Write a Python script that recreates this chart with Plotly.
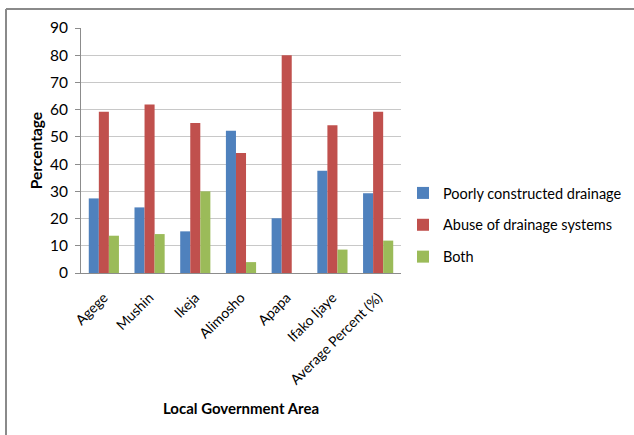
import plotly.graph_objects as go

categories = ["Agege", "Mushin", "Ikeja", "Alimosho", "Apapa", "Ifako Ijaye", "Average Percent (%)"]
poorly = [27.4, 24.1, 15.3, 52.3, 20.1, 37.6, 29.3]
abuse = [59.2, 61.9, 55.1, 44.1, 80.0, 54.3, 59.2]
both = [13.7, 14.3, 30.0, 4.0, 0, 8.6, 11.9]
series_names = ["Poorly constructed drainage", "Abuse of drainage systems", "Both"]
colors = ["#4F81BD", "#C0504D", "#9BBB59"]

FONT = "Lato"
fig = go.Figure()
for i, (name, vals) in enumerate(zip(series_names, [poorly, abuse, both])):
    fig.add_trace(go.Bar(
        x=categories, y=vals, name=name,
        marker=dict(color=colors[i], line=dict(width=0)),
        legendgroup=str(i),
    ))

W, H = 634, 435
L, R, T, B = 81, 233, 28, 162
pw = W - L - R
ph = H - T - B

border = dict(color="#8a8a8a", width=2)
fig.update_layout(
    width=W, height=H,
    margin=dict(l=L, r=R, t=T, b=B, autoexpand=False),
    paper_bgcolor="white", plot_bgcolor="white",
    barmode="group", bargap=0.34, bargroupgap=0,
    font=dict(family=FONT, size=14, color="#000000"),
    legend=dict(x=(403 - L) / pw, xanchor="left", y=(H - B - 225) / ph, yanchor="middle",
                font=dict(family=FONT, size=14.5), tracegroupgap=10,
                itemwidth=30, bgcolor="rgba(0,0,0,0)"),
    xaxis=dict(
        title=dict(text="<b>Local Government Area</b>", font=dict(family=FONT, size=15), standoff=16),
        tickangle=-45, showline=True, linecolor="#8c8c8c", linewidth=1,
        tickfont=dict(family=FONT, size=14), showgrid=False, ticklabelstandoff=10,
        automargin=False,
    ),
    yaxis=dict(
        title=dict(text="<b>Percentage</b>", font=dict(family=FONT, size=15.5), standoff=3),
        range=[0, 90], dtick=10, showline=True, linecolor="#8c8c8c", linewidth=1,
        gridcolor="#c8c8c8", gridwidth=1, ticks="outside", ticklen=5, tickcolor="#8c8c8c",
        tickfont=dict(family=FONT, size=15.5), zeroline=False, automargin=False,
        ticklabelstandoff=4,
    ),
    shapes=[
        dict(type="line", xref="paper", yref="paper",
             x0=(6 - L) / pw, x1=(6 - L) / pw,
             y0=(H - B - (H + 10)) / ph, y1=(H - B - 9) / ph, line=border, layer="below"),
        dict(type="line", xref="paper", yref="paper",
             x0=(6 - L) / pw, x1=(W + 10 - L) / pw,
             y0=(H - B - 9) / ph, y1=(H - B - 9) / ph, line=border, layer="below"),
    ],
)

fig.write_html("out.html", post_script="document.body.style.margin='0px';",
               config={"displayModeBar": False})
